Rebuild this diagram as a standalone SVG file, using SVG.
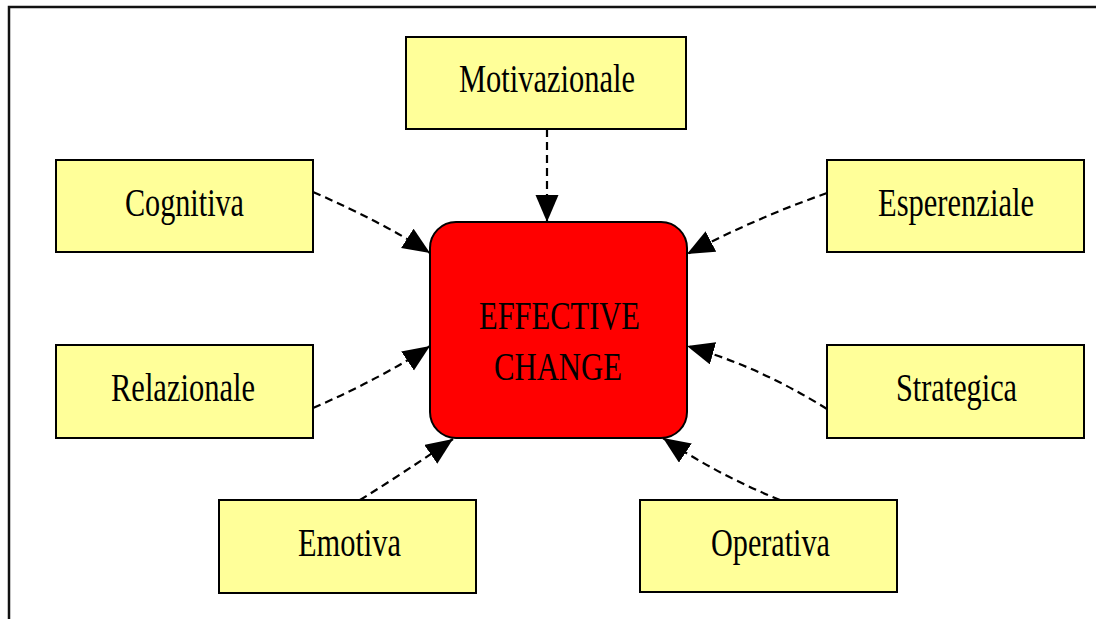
<svg xmlns="http://www.w3.org/2000/svg" width="1096" height="619" viewBox="0 0 1096 619">
  <style>
    .box { fill: #FFFF99; stroke: #000; stroke-width: 2; }
    .core { fill: #FF0000; stroke: #000; stroke-width: 2; }
    .lbl { font-family: "Liberation Serif", "Times New Roman", serif; font-size: 40px; fill: #000; text-anchor: middle; }
    .link { fill: none; stroke: #000; stroke-width: 2.2; stroke-dasharray: 8 5; marker-end: url(#head); }
    .frame { fill: none; stroke: #111; stroke-width: 2.5; }
  </style>
  <defs>
    <marker id="head" markerUnits="userSpaceOnUse" markerWidth="28" markerHeight="24" refX="27" refY="11.5" orient="auto">
      <path d="M0,0 L27,11.5 L0,23 z" fill="#000"/>
    </marker>
  </defs>

  <rect width="1096" height="619" fill="#fff"/>
  <path class="frame" d="M9,619 V7 H1096"/>

  <g id="connectors">
    <path class="link" d="M547,129 L547,222"/>
    <path class="link" d="M313,192 Q382,222 430,253"/>
    <path class="link" d="M313,408 Q382,378 430,346"/>
    <path class="link" d="M827,193 Q756,218 687,254"/>
    <path class="link" d="M827,409 Q758,366 687,346"/>
    <path class="link" d="M360,500 Q405,472 453,439"/>
    <path class="link" d="M780,500 Q718,475 663,438"/>
  </g>

  <g id="effective-change">
    <rect class="core" x="430" y="222" width="257" height="216" rx="26" ry="26"/>
    <text class="lbl" x="559.5" y="329" textLength="161" lengthAdjust="spacingAndGlyphs">EFFECTIVE</text>
    <text class="lbl" x="558" y="380" textLength="128" lengthAdjust="spacingAndGlyphs">CHANGE</text>
  </g>

  <g id="motivazionale">
    <rect class="box" x="406" y="37" width="280" height="92"/>
    <text class="lbl" x="547" y="92" textLength="176" lengthAdjust="spacingAndGlyphs">Motivazionale</text>
  </g>

  <g id="cognitiva">
    <rect class="box" x="56" y="160" width="257" height="92"/>
    <text class="lbl" x="184.5" y="216" textLength="119" lengthAdjust="spacingAndGlyphs">Cognitiva</text>
  </g>

  <g id="esperenziale">
    <rect class="box" x="827" y="160" width="257" height="92"/>
    <text class="lbl" x="956" y="216" textLength="156" lengthAdjust="spacingAndGlyphs">Esperenziale</text>
  </g>

  <g id="relazionale">
    <rect class="box" x="56" y="345" width="257" height="93"/>
    <text class="lbl" x="183" y="401" textLength="144" lengthAdjust="spacingAndGlyphs">Relazionale</text>
  </g>

  <g id="strategica">
    <rect class="box" x="827" y="345" width="257" height="93"/>
    <text class="lbl" x="956.5" y="401" textLength="121" lengthAdjust="spacingAndGlyphs">Strategica</text>
  </g>

  <g id="emotiva">
    <rect class="box" x="219" y="500" width="257" height="93"/>
    <text class="lbl" x="349.5" y="556" textLength="103" lengthAdjust="spacingAndGlyphs">Emotiva</text>
  </g>

  <g id="operativa">
    <rect class="box" x="640" y="500" width="257" height="92"/>
    <text class="lbl" x="770.5" y="556" textLength="119" lengthAdjust="spacingAndGlyphs">Operativa</text>
  </g>
</svg>
